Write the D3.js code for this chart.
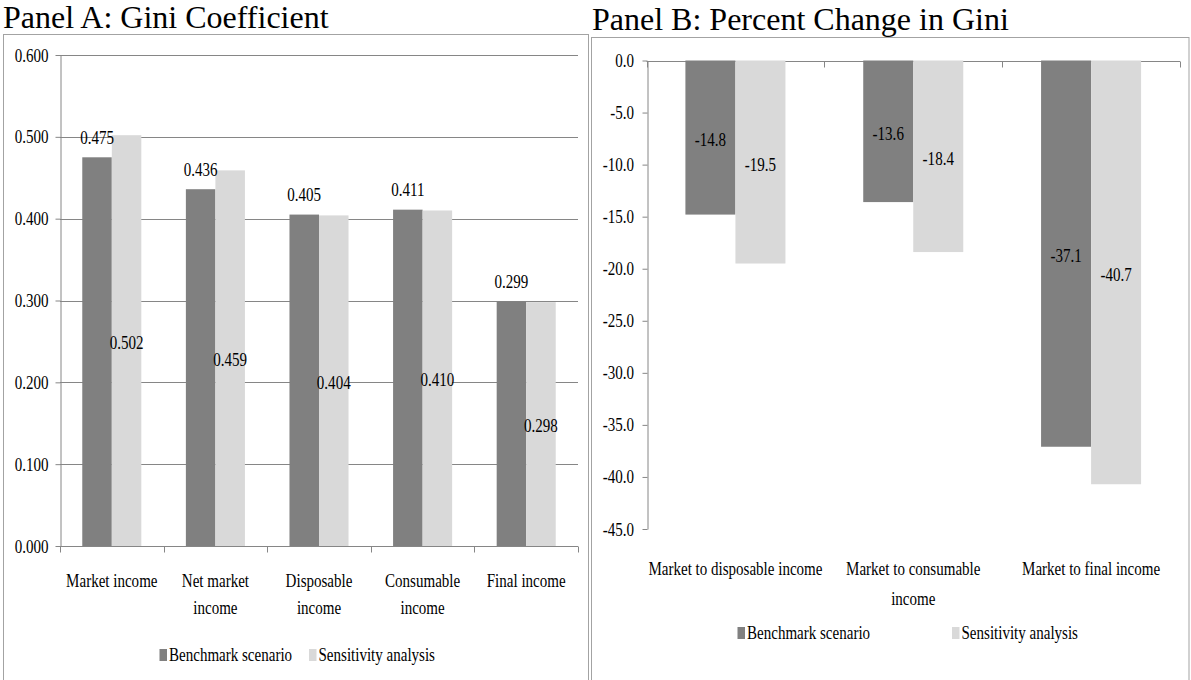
<!DOCTYPE html>
<html>
<head>
<meta charset="utf-8">
<script src="https://cdn.jsdelivr.net/npm/d3@7"></script>
<style>
  html, body { margin: 0; padding: 0; background: #fff; }
  svg { display: block; }
</style>
</head>
<body>
<svg id="chart" width="1191" height="680"></svg>
<script>
// Panel A: Gini coefficient by income concept
const categoriesA = ["Market income", "Net market income", "Disposable income", "Consumable income", "Final income"];
const benchmarkA = [0.475, 0.436, 0.405, 0.411, 0.299];
const sensitivityA = [0.502, 0.459, 0.404, 0.410, 0.298];
const yTicksA = [0, 0.1, 0.2, 0.3, 0.4, 0.5, 0.6];

// Panel B: percent change in Gini relative to market income
const categoriesB = ["Market to disposable income", "Market to consumable income", "Market to final income"];
const benchmarkB = [-14.8, -13.6, -37.1];
const sensitivityB = [-19.5, -18.4, -40.7];
const yTicksB = [0, -5, -10, -15, -20, -25, -30, -35, -40, -45];

const seriesNames = ["Benchmark scenario", "Sensitivity analysis"];

const COLORS = { "Benchmark scenario": "#808080", "Sensitivity analysis": "#d9d9d9" };
const AXIS = "#868686";
const FRAME = "#a3a3a3";
const FONT = "'Liberation Serif', 'Times New Roman', Times, 'DejaVu Serif', serif";
const FS = 18;        // chart text size
const SX = 0.835;     // horizontal squeeze of chart text

const svg = d3.select("#chart").attr("font-family", FONT);

// text helper: squeezed horizontally around its anchor point
function label(g, x, y, str, anchor) {
  return g.append("text")
    .attr("transform", `translate(${x},${y}) scale(${SX},1)`)
    .attr("text-anchor", anchor || "middle")
    .attr("font-family", FONT)
    .attr("font-size", FS)
    .attr("fill", "#000")
    .text(str);
}

// split a category name into lines that fit the given width
function wrapLines(g, str, maxW) {
  const probe = g.append("text").attr("font-family", FONT).attr("font-size", FS);
  const words = str.split(" ");
  const lines = [];
  let cur = "";
  words.forEach(w => {
    const trial = cur ? cur + " " + w : w;
    probe.text(trial);
    if (cur && probe.node().getComputedTextLength() * SX > maxW) {
      lines.push(cur);
      cur = w;
    } else {
      cur = trial;
    }
  });
  if (cur) lines.push(cur);
  probe.remove();
  return lines;
}

function drawPanel(cfg) {
  const g = svg.append("g");

  // frame and title
  g.append("rect")
    .attr("x", cfg.frame[0]).attr("y", cfg.frame[1])
    .attr("width", cfg.frame[2]).attr("height", cfg.frame[3])
    .attr("fill", "none").attr("stroke", FRAME).attr("stroke-width", 1);
  g.append("text")
    .attr("x", cfg.title[0]).attr("y", cfg.title[1])
    .attr("font-family", FONT)
    .attr("font-size", 32)
    .attr("fill", "#000")
    .text(cfg.titleText);

  const x0 = d3.scaleBand().domain(cfg.categories).range(cfg.xRange).padding(0);
  const groupW = x0.bandwidth() * cfg.groupFrac;
  const x1 = d3.scaleBand().domain(seriesNames).range([-groupW / 2, groupW / 2]).padding(0);
  const y = d3.scaleLinear().domain(cfg.yDomain).range(cfg.yRange);

  const x0Left = cfg.xRange[0], x0Right = cfg.xRange[1];
  const zeroY = y(0);

  // horizontal gridlines
  if (cfg.grid) {
    g.append("g").selectAll("line")
      .data(cfg.yTicks.filter(t => t !== 0))
      .join("line")
      .attr("x1", x0Left).attr("x2", x0Right)
      .attr("y1", d => Math.round(y(d)) + 0.5).attr("y2", d => Math.round(y(d)) + 0.5)
      .attr("stroke", AXIS).attr("stroke-width", 1);
  }

  // value axis
  const yAxis = g.append("g")
    .attr("transform", `translate(${Math.round(x0Left) + 0.5},0)`)
    .call(d3.axisLeft(y).tickValues(cfg.yTicks).tickSize(5).tickSizeOuter(0).tickFormat(cfg.fmt));
  yAxis.attr("font-family", FONT);
  yAxis.select(".domain").attr("stroke", AXIS);
  yAxis.selectAll(".tick line").attr("stroke", AXIS);
  yAxis.selectAll(".tick text")
    .attr("x", null).attr("dy", null)
    .attr("font-family", FONT)
    .attr("font-size", FS)
    .attr("text-anchor", "end")
    .attr("fill", "#000")
    .attr("transform", `translate(${cfg.tickLabelGap},6) scale(${SX},1)`);

  // category axis line with boundary ticks
  const bounds = cfg.categories.map(c => x0(c)).concat([x0Right]);
  const cg = g.append("g");
  cg.append("line")
    .attr("x1", x0Left).attr("x2", x0Right)
    .attr("y1", Math.round(zeroY) + 0.5).attr("y2", Math.round(zeroY) + 0.5)
    .attr("stroke", AXIS);
  cg.selectAll("line.bt")
    .data(bounds)
    .join("line").attr("class", "bt")
    .attr("x1", d => Math.round(d) + 0.5).attr("x2", d => Math.round(d) + 0.5)
    .attr("y1", Math.round(zeroY) + 0.5).attr("y2", Math.round(zeroY) + 6.5)
    .attr("stroke", AXIS);

  // bars
  const rows = cfg.categories.map((c, i) => ({ cat: c, vals: [
    { s: seriesNames[0], v: cfg.benchmark[i] },
    { s: seriesNames[1], v: cfg.sensitivity[i] }
  ]}));
  const groups = g.append("g").selectAll("g")
    .data(rows).join("g")
    .attr("transform", d => `translate(${x0(d.cat) + x0.bandwidth() / 2},0)`);
  groups.selectAll("rect")
    .data(d => d.vals).join("rect")
    .attr("x", d => x1(d.s))
    .attr("width", x1.bandwidth())
    .attr("y", d => Math.min(y(d.v), zeroY))
    .attr("height", d => Math.abs(y(d.v) - zeroY))
    .attr("fill", d => COLORS[d.s]);

  // value labels
  groups.each(function(d) {
    const gg = d3.select(this);
    d.vals.forEach(e => {
      const cx = x1(e.s) + x1.bandwidth() / 2;
      const mid = (y(e.v) + zeroY) / 2;
      const ly = cfg.labelPos(e.s, y(e.v), mid);
      label(gg, cx, ly, cfg.vfmt(e.v));
    });
  });

  // category labels
  const lg = g.append("g");
  cfg.categories.forEach(c => {
    const lines = wrapLines(lg, c, x0.bandwidth());
    lines.forEach((ln, k) => {
      label(lg, x0(c) + x0.bandwidth() / 2, cfg.catY + k * cfg.lineH, ln);
    });
  });

  // legend
  const leg = g.append("g");
  seriesNames.forEach((s, i) => {
    const lx = cfg.legendX[i];
    leg.append("rect")
      .attr("x", lx).attr("y", cfg.legendY - 12)
      .attr("width", 7.5).attr("height", 12)
      .attr("fill", COLORS[s]);
    label(leg, lx + 9.5, cfg.legendY, s, "start");
  });
}

drawPanel({
  titleText: "Panel A: Gini Coefficient",
  title: [3, 27.5],
  frame: [3.5, 34.5, 585, 700],
  categories: categoriesA,
  benchmark: benchmarkA,
  sensitivity: sensitivityA,
  yTicks: yTicksA,
  yDomain: [0, 0.6],
  yRange: [546, 55],
  xRange: [60, 578],
  groupFrac: 0.57,
  grid: true,
  fmt: d3.format(".3f"),
  vfmt: d3.format(".3f"),
  tickLabelGap: -12,
  labelPos: (s, top, mid) => s === seriesNames[0] ? top - 13.3 : mid + 8,
  catY: 587,
  lineH: 26.5,
  legendX: [159.5, 309],
  legendY: 661
});

drawPanel({
  titleText: "Panel B: Percent Change in Gini",
  title: [592, 29.5],
  frame: [591.5, 37.5, 597.5, 700],
  categories: categoriesB,
  benchmark: benchmarkB,
  sensitivity: sensitivityB,
  yTicks: yTicksB,
  yDomain: [-45, 0],
  yRange: [529, 60.5],
  xRange: [646.5, 1180],
  groupFrac: 0.5625,
  grid: false,
  fmt: d => d.toFixed(1),
  vfmt: d => d.toFixed(1),
  tickLabelGap: -13.5,
  labelPos: (s, top, mid) => mid + 8.5,
  catY: 575,
  lineH: 30,
  legendX: [737.5, 952],
  legendY: 639
});
</script>
</body>
</html>
